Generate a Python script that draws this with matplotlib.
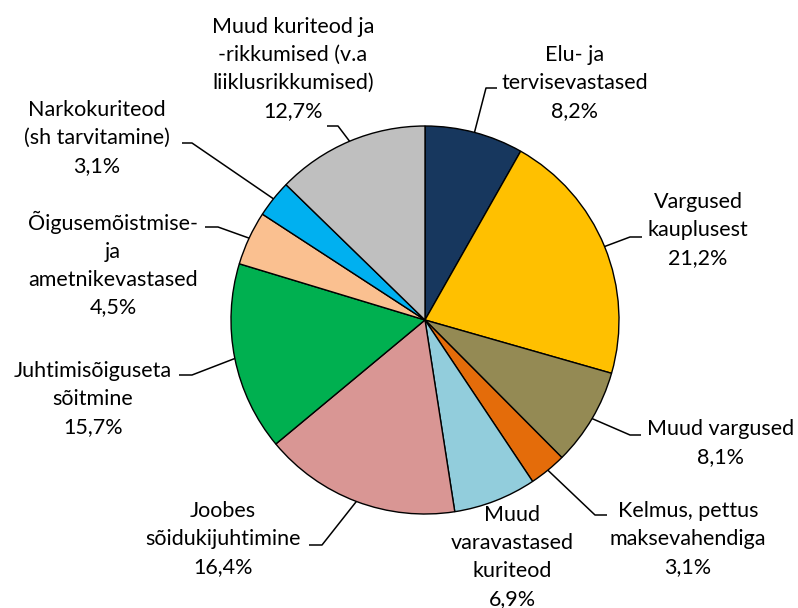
import matplotlib
matplotlib.use("Agg")
import matplotlib.pyplot as plt
import numpy as np

categories = [
    "Elu- ja\ntervisevastased",
    "Vargused\nkauplusest",
    "Muud vargused",
    "Kelmus, pettus\nmaksevahendiga",
    "Muud\nvaravastased\nkuriteod",
    "Joobes\nsõidukijuhtimine",
    "Juhtimisõiguseta\nsõitmine",
    "Õigusemõistmise-\nja\nametnikevastased",
    "Narkokuriteod\n(sh tarvitamine)",
    "Muud kuriteod ja\n-rikkumised (v.a\nliiklusrikkumised)",
]
values = [8.2, 21.2, 8.1, 3.1, 6.9, 16.4, 15.7, 4.5, 3.1, 12.7]
colors = ["#17375E", "#FFC000", "#948A54", "#E46C0A", "#92CDDC",
          "#D99694", "#00B050", "#FAC090", "#00B0F0", "#BFBFBF"]

# layout (figure pixels, origin top-left): label block centres and leader elbows
CX, CY, R = 425, 320, 194
label_pos = [(575, 83), (698, 230), (721, 443), (688, 539), (512, 557),
             (223, 539), (93, 399), (113, 264), (97, 138), (293, 69)]
elbows = [((486, 88), (497, 88)), ((630, 237), (642, 237)), ((630, 435), (641, 435)),
          ((595, 515), (607, 515)), None, ((322, 545), (309, 545)),
          ((192, 375), (179, 375)), ((218, 227), (205, 227)),
          ((192, 143), (182, 143)), ((338, 126), (327, 126))]

W, H = 798, 608
fig = plt.figure(figsize=(W / 100, H / 100), dpi=100)
ax = fig.add_axes([0, 0, 1, 1])

def px(p):
    return ((p[0] - CX) / R, (CY - p[1]) / R)

wedges, _ = ax.pie(values, colors=colors, startangle=90, counterclock=False,
                   radius=1.0, wedgeprops=dict(edgecolor="black", linewidth=1.0))
ax.set_xlim(-CX / R, (W - CX) / R)
ax.set_ylim(-(H - CY) / R, CY / R)
ax.set_aspect("equal")
ax.axis("off")

font = ["Lato", "DejaVu Sans"]
for i, (w, cat, v) in enumerate(zip(wedges, categories, values)):
    pct = f"{v:.1f}%".replace(".", ",")
    txt = f"{cat}\n{pct}"
    lx, ly = px(label_pos[i])
    ax.text(lx, ly, txt, ha="center", va="center", multialignment="center",
            fontsize=15.5, family=font, color="#000000", linespacing=1.5)
    if elbows[i] is not None:
        ang = np.deg2rad((w.theta1 + w.theta2) / 2)
        sx, sy = np.cos(ang), np.sin(ang)
        e1 = px(elbows[i][0])
        e2 = px(elbows[i][1])
        ax.plot([sx, e1[0], e2[0]], [sy, e1[1], e2[1]], color="black", lw=1.1,
                solid_capstyle="butt")

fig.savefig("out.png", dpi=100)
